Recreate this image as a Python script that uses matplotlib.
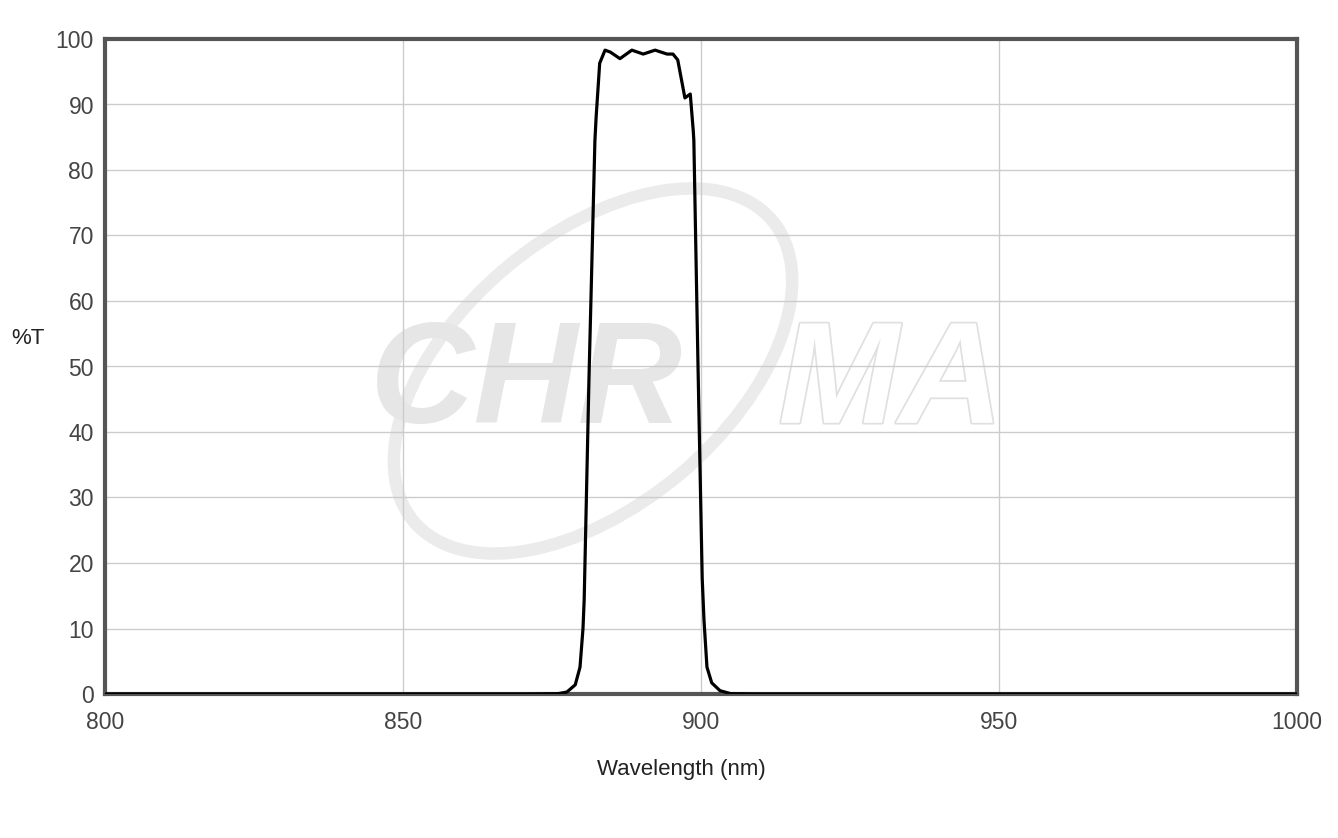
import matplotlib.pyplot as plt
from matplotlib.patches import Ellipse
import matplotlib.patheffects as pe

plt.rcParams['font.family'] = ['Liberation Sans', 'DejaVu Sans']

# transmission curve
wavelength = [800, 870, 876, 877.5, 878.9, 879.7, 880.2, 880.4, 881.2, 882.2, 882.4,
              883.0, 883.9, 884.8, 886.4, 888.4, 890.3, 892.3, 894.3, 895.3,
              896.1, 897.3, 898.2, 898.7, 898.8, 899.5, 900.2, 900.5, 901.0,
              901.8, 903.2, 905, 910, 1000]
transmission = [0, 0, 0.05, 0.3, 1.4, 4.1, 10, 14.4, 48, 84.5, 88,
                96.3, 98.3, 98.0, 97.0, 98.3, 97.7, 98.3, 97.7, 97.7,
                96.8, 91.0, 91.6, 86, 84.5, 50, 17.7, 11.3, 4.1,
                1.7, 0.5, 0.05, 0, 0]

x_ticks = [800, 850, 900, 950, 1000]
y_ticks = [0, 10, 20, 30, 40, 50, 60, 70, 80, 90, 100]

fig = plt.figure(figsize=(13.38, 8.38), dpi=100)
ax = fig.add_axes([105 / 1338, 1 - 694 / 838, (1297 - 105) / 1338, (694 - 39) / 838])

# faint logo watermark (swoosh + letters)
ax.add_patch(Ellipse((5.93, 4.67), 4.68, 2.70, angle=40, transform=fig.dpi_scale_trans,
                     fill=False, edgecolor='#ebebeb', linewidth=9, zorder=0.6))
ax.text(0.222, 0.414, 'CHR', transform=ax.transAxes, ha='left', va='baseline',
        fontsize=104, fontweight='bold', fontstyle='italic', color='#e6e6e6', zorder=0.7)
ax.text(0.565, 0.414, 'MA', transform=ax.transAxes, ha='left', va='baseline',
        fontsize=104, fontweight='bold', fontstyle='italic', color='white', zorder=0.7,
        path_effects=[pe.withStroke(linewidth=2.5, foreground='#e0e0e0')])

ax.plot(wavelength, transmission, color='black', linewidth=2.3, zorder=3)

ax.set_xlim(800, 1000)
ax.set_ylim(0, 100)
ax.set_xticks(x_ticks)
ax.set_yticks(y_ticks)
ax.grid(True, color='#cccccc', linewidth=1)
ax.tick_params(length=0, labelsize=16.5, labelcolor='#444444')
ax.tick_params(axis='x', pad=12)
ax.tick_params(axis='y', pad=8)
for s in ax.spines.values():
    s.set_color('#555555')
    s.set_linewidth(3)

fig.text(28 / 1338, 1 - 338 / 838, '%T', fontsize=16, color='#222222', ha='center', va='center')
fig.text(681 / 1338, 1 - 769 / 838, 'Wavelength (nm)', fontsize=16, color='#222222',
         ha='center', va='center')

fig.savefig('out.png', dpi=100)
